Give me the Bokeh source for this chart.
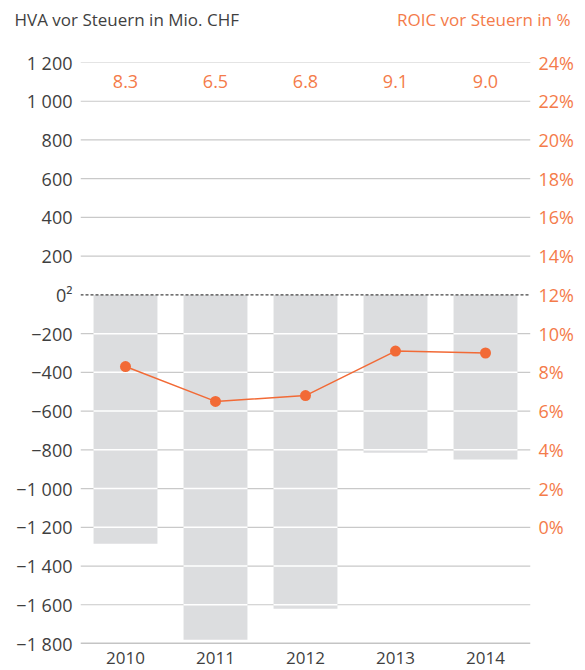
from bokeh.plotting import figure
from bokeh.layouts import column
from bokeh.models import Range1d, LinearAxis, FixedTicker, ColumnDataSource, Span
from bokeh.core.properties import value
from bokeh.embed import file_html
from bokeh.resources import INLINE

# Data
years = ["2010", "2011", "2012", "2013", "2014"]
hva = [-1285, -1780, -1620, -815, -850]          # HVA before tax, CHF m
roic = [8.3, 6.5, 6.8, 9.1, 9.0]                  # ROIC before tax, %
left_ticks = [-1800, -1600, -1400, -1200, -1000, -800, -600, -400, -200,
              0, 200, 400, 600, 800, 1000, 1200]
left_tick_labels = ["\u22121 800", "\u22121 600", "\u22121 400", "\u22121 200",
                    "\u22121 000", "\u2212800", "\u2212600", "\u2212400", "\u2212200",
                    "0\u00b2", "200", "400", "600", "800", "1 000", "1 200"]
right_ticks = [0, 2, 4, 6, 8, 10, 12, 14, 16, 18, 20, 22, 24]
left_title = "HVA vor Steuern in Mio. CHF"
right_title = "ROIC vor Steuern in %"

GREY_TEXT = "#3f3f3f"
ORANGE = "#f26a36"
ORANGE_TEXT = "#f47b4a"
BAR = "#dcdddf"
GRID = "#c9c9c9"
FONT = "Open Sans"
TICK_SIZE = "18px"

W = 585
HEAD_H = 40

# Header strip carrying both axis titles on one line
head = figure(width=W, height=HEAD_H, output_backend="svg", toolbar_location=None,
              x_range=Range1d(0, W), y_range=Range1d(0, HEAD_H),
              min_border_left=0, min_border_right=0, min_border_top=0,
              min_border_bottom=0)
head.frame_align = False
head.outline_line_color = None
head.axis.visible = False
head.grid.visible = False
head.text(x=[14], y=[HEAD_H - 19], text=[left_title], text_align="left",
          text_baseline="alphabetic", text_color=GREY_TEXT, text_font_size="17px",
          text_font=value(FONT))
head.text(x=[570], y=[HEAD_H - 19], text=[right_title], text_align="right",
          text_baseline="alphabetic", text_color=ORANGE_TEXT, text_font_size="17px",
          text_font=value(FONT))

xs = list(range(len(years)))
# ROIC shares the plot with HVA: 12 % sits on zero, 1 % equals 100 CHF m
roic_y = [(r - 12) * 100 for r in roic]

p = figure(width=W, height=670 - HEAD_H, output_backend="svg", toolbar_location=None,
           x_range=Range1d(-0.5, 4.5), y_range=Range1d(-1800, 1200),
           min_border_left=80, min_border_right=55, min_border_top=62 - HEAD_H,
           min_border_bottom=27)
p.frame_align = False
p.outline_line_color = None
p.background_fill_color = "white"
p.xgrid.visible = False
p.ygrid.visible = False
p.yaxis.visible = False
p.xaxis.visible = False

# Horizontal grid lines
grid_vals = [v for v in left_ticks if v not in (0, -1800)]
p.segment(x0=[-0.5] * len(grid_vals), x1=[4.5] * len(grid_vals),
          y0=grid_vals, y1=grid_vals, line_color=GRID, line_width=1.2)

# Bars
bar_w = 0.71
p.vbar(x=xs, top=[0] * len(xs), bottom=hva, width=bar_w, fill_color=BAR,
       line_color=None)

# White cuts where the grid crosses the bars
cx0, cx1, cy = [], [], []
for x, v in zip(xs, hva):
    for g in grid_vals:
        if v < g < 0:
            cx0.append(x - bar_w / 2)
            cx1.append(x + bar_w / 2)
            cy.append(g)
p.segment(x0=cx0, x1=cx1, y0=cy, y1=cy, line_color="white", line_width=1.5)

# Zero line (dashed) and bottom axis line
p.add_layout(Span(location=0, dimension="width", line_color="#444444",
                  line_dash="3 2", line_width=1.3))
p.add_layout(Span(location=-1800, dimension="width", line_color="#8a8a8a",
                  line_width=1.5))

# ROIC line
src = ColumnDataSource(dict(x=xs, y=roic_y, lab=[f"{r:.1f}" for r in roic]))
p.line("x", "y", source=src, line_color=ORANGE, line_width=1.5)
p.scatter("x", "y", source=src, size=11, fill_color=ORANGE, line_color=None)

# ROIC value labels above the chart
p.text(x="x", y=1100, text="lab", source=src, text_align="center",
       text_baseline="middle", text_color=ORANGE_TEXT, text_font_size=TICK_SIZE,
       text_font=value(FONT))

# Left axis
left = LinearAxis(ticker=FixedTicker(ticks=left_ticks),
                  major_label_overrides={t: l for t, l in zip(left_ticks, left_tick_labels)})
left.axis_line_color = None
left.major_tick_line_color = None
left.minor_tick_line_color = None
left.major_label_text_font = FONT
left.major_label_text_font_size = TICK_SIZE
left.major_label_text_color = GREY_TEXT
left.major_label_text_baseline = "alphabetic"
left.major_label_standoff = 2
p.add_layout(left, "left")

# Right axis (ROIC %)
p.extra_y_ranges = {"roic": Range1d(-6, 24)}
right = LinearAxis(y_range_name="roic", ticker=FixedTicker(ticks=right_ticks),
                   major_label_overrides={t: f"{t}%" for t in right_ticks})
right.axis_line_color = None
right.major_tick_line_color = None
right.minor_tick_line_color = None
right.major_label_text_font = FONT
right.major_label_text_font_size = TICK_SIZE
right.major_label_text_color = ORANGE_TEXT
right.major_label_text_baseline = "alphabetic"
right.major_label_standoff = 2
p.add_layout(right, "right")

# Bottom axis with years
bottom = LinearAxis(ticker=FixedTicker(ticks=xs),
                    major_label_overrides={x: y for x, y in zip(xs, years)})
bottom.axis_line_color = None
bottom.major_tick_line_color = None
bottom.minor_tick_line_color = None
bottom.major_label_text_font = FONT
bottom.major_label_text_font_size = "17px"
bottom.major_label_text_color = GREY_TEXT
bottom.major_label_standoff = 2
p.add_layout(bottom, "below")

layout = column(head, p, spacing=0)
open("out.html", "w").write(file_html(layout, INLINE))
